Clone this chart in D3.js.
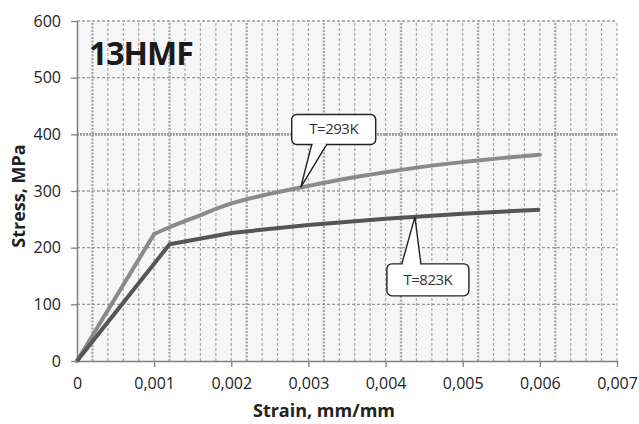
<!DOCTYPE html>
<html>
<head>
<meta charset="utf-8">
<script src="https://cdn.jsdelivr.net/npm/d3@7"></script>
<style>
  body { margin: 0; background: #fff; }
  text { font-family: "Open Sans", Lato, sans-serif; }
</style>
</head>
<body>
<div id="chart"></div>
<script>
// strain (mm/mm) and stress (MPa)
var strain293 = [0, 0.001, 0.0012, 0.0015, 0.002, 0.0025, 0.003, 0.0035, 0.004, 0.0045, 0.005, 0.0055, 0.006]
var stress293 = [0, 224, 236, 252, 278, 295, 309, 322, 333, 343, 351, 358, 364]
var strain823 = [0, 0.0012, 0.002, 0.003, 0.004, 0.005, 0.006]
var stress823 = [0, 206, 226, 240, 251, 260, 267]

var xTicks = [0, 0.001, 0.002, 0.003, 0.004, 0.005, 0.006, 0.007]
var yTicks = [0, 100, 200, 300, 400, 500, 600]
var labels = [
  { text: "T=293K", at: 0.0029 },
  { text: "T=823K", at: 0.00438 }
]

var width = 639,
    height = 424,
    margin = { top: 21, right: 22, bottom: 63, left: 77 }

var svg = d3.select('#chart').append('svg')
    .attr('width', width)
    .attr('height', height)

var x = d3.scaleLinear()
    .domain([0, 0.007])
    .range([margin.left, width - margin.right])

var y = d3.scaleLinear()
    .domain([0, 600])
    .range([height - margin.bottom, margin.top])

var fmt = function (d) { return d === 0 ? "0" : d3.format(".3f")(d).replace(".", ",") }

// plot background
svg.append("rect")
    .attr("x", x(0)).attr("y", y(600))
    .attr("width", x(0.007) - x(0)).attr("height", y(0) - y(600))
    .attr("fill", "#f6f6f6")

// vertical minor grid every 0.0002
var minor = d3.range(1, 36).map(function (i) { return i * 0.0002 })
svg.selectAll(".vgrid").data(minor)
  .enter().append("line")
    .attr("class", "vgrid")
    .attr("x1", function (d) { return x(d) }).attr("x2", function (d) { return x(d) })
    .attr("y1", y(0)).attr("y2", y(600))
    .attr("stroke", "#a8a8a8")
    .attr("stroke-width", function (d, i) { return i % 5 === 0 ? 2.4 : 1.2 })
    .attr("stroke-dasharray", function (d, i) { return i % 5 === 0 ? "2,1.5" : "3,2" })

// horizontal grid
svg.selectAll(".hgrid").data(yTicks.slice(1))
  .enter().append("line")
    .attr("class", "hgrid")
    .attr("x1", x(0)).attr("x2", x(0.007))
    .attr("y1", function (d) { return y(d) }).attr("y2", function (d) { return y(d) })
    .attr("stroke", "#9a9a9a")
    .attr("stroke-width", function (d) { return d === 400 ? 2.6 : 1.3 })
    .attr("stroke-dasharray", function (d) { return d === 400 ? "2,1" : "3,2" })

// axes
var xAxis = d3.axisBottom(x).tickValues(xTicks).tickFormat(fmt).tickSize(6).tickSizeOuter(0).tickPadding(11)
var yAxis = d3.axisLeft(y).tickValues(yTicks).tickSize(6).tickSizeOuter(0).tickPadding(10)

var gx = svg.append("g")
    .attr("transform", "translate(0," + y(0) + ")")
    .call(xAxis)
var gy = svg.append("g")
    .attr("transform", "translate(" + x(0) + ",0)")
    .call(yAxis)

;[gx, gy].forEach(function (g) {
  g.select(".domain").attr("stroke", "#808080").attr("stroke-width", 1.5)
  g.selectAll(".tick line").attr("stroke", "#808080").attr("stroke-width", 1.3)
  g.selectAll(".tick text").attr("fill", "#222").style("font-size", "16px")
})
gx.selectAll(".tick line").filter(function (d) { return d === 0 }).remove()

// curves: straight elastic part, smooth plastic part for 293K
var line = d3.line()
    .x(function (d) { return x(d[0]) })
    .y(function (d) { return y(d[1]) })

var data293 = strain293.map(function (s, i) { return [s, stress293[i]] })
var data823 = strain823.map(function (s, i) { return [s, stress823[i]] })

svg.append("path").datum(data293.slice(0, 2))
    .attr("d", line.curve(d3.curveLinear))
    .attr("fill", "none")
    .attr("stroke", "#8a8a8a")
    .attr("stroke-width", 4)
    .attr("stroke-linecap", "round")

svg.append("path").datum(data293.slice(1))
    .attr("d", line.curve(d3.curveMonotoneX))
    .attr("fill", "none")
    .attr("stroke", "#8a8a8a")
    .attr("stroke-width", 4)
    .attr("stroke-linecap", "round")

svg.append("path").datum(data823)
    .attr("d", line.curve(d3.curveLinear))
    .attr("fill", "none")
    .attr("stroke", "#555")
    .attr("stroke-width", 4)
    .attr("stroke-linejoin", "round")

// callouts
function valueAt(xs, ys, v) {
  var i = d3.bisectRight(xs, v) - 1
  var t = (v - xs[i]) / (xs[i + 1] - xs[i])
  return ys[i] + t * (ys[i + 1] - ys[i])
}

function callout(tipX, tipY, bx, by, bw, bh, p1, p2, text, below) {
  var g = svg.append("g")
  var baseY = below ? by : by + bh
  g.append("path")
    .attr("d", "M" + p1 + "," + baseY + "L" + tipX + "," + tipY + "L" + p2 + "," + baseY)
    .attr("fill", "#fff").attr("stroke", "#222").attr("stroke-width", 1.4)
  g.append("rect")
    .attr("x", bx).attr("y", by).attr("width", bw).attr("height", bh)
    .attr("rx", 5).attr("fill", "#fff").attr("stroke", "#222").attr("stroke-width", 1.4)
  g.append("line")
    .attr("x1", p1 + 1).attr("x2", p2 - 1).attr("y1", baseY).attr("y2", baseY)
    .attr("stroke", "#fff").attr("stroke-width", 2.5)
  g.append("text")
    .attr("x", bx + bw / 2).attr("y", by + bh / 2 + 5)
    .attr("text-anchor", "middle")
    .style("font-size", "15px").style("letter-spacing", "-0.5px").attr("fill", "#333")
    .text(text)
}

var t1x = x(labels[0].at), t1y = y(valueAt(strain293, stress293, labels[0].at))
callout(t1x, t1y, t1x - 9, t1y - 73, 84, 30, t1x + 11, t1x + 26, labels[0].text, false)
var t2x = x(labels[1].at), t2y = y(valueAt(strain823, stress823, labels[1].at))
callout(t2x, t2y, t2x - 28, t2y + 47, 82, 32, t2x - 13, t2x + 6, labels[1].text, true)

// title and axis titles
svg.append("text")
    .attr("x", 89).attr("y", 65)
    .style("font-size", "32px").style("font-weight", "bold")
    .style("letter-spacing", "-1px")
    .attr("fill", "#1a1a1a")
    .text("13HMF")

svg.append("text")
    .attr("transform", "translate(25,196) rotate(-90)")
    .attr("text-anchor", "middle")
    .style("font-size", "18px").style("font-weight", "bold")
    .attr("fill", "#222")
    .text("Stress, MPa")

svg.append("text")
    .attr("x", 324).attr("y", 417)
    .attr("text-anchor", "middle")
    .style("font-size", "18px").style("font-weight", "bold")
    .attr("fill", "#222")
    .text("Strain, mm/mm")
</script>
</body>
</html>
